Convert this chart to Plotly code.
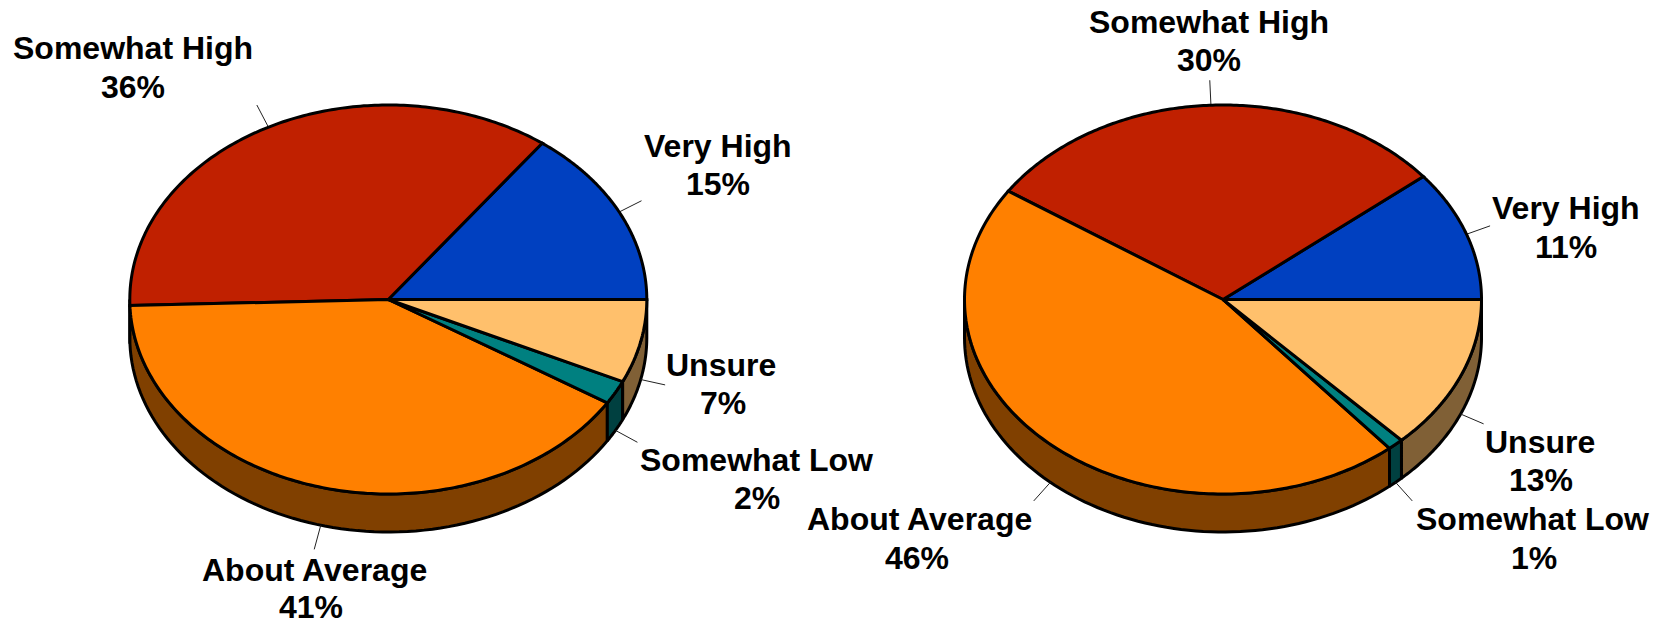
import numpy as np
import plotly.graph_objects as go

# ---- data ----
categories = ["Very High", "Somewhat High", "About Average", "Somewhat Low", "Unsure"]
left_values = [15, 36, 41, 2, 7]
right_values = [11, 30, 46, 1, 13]

# ---- style and layout ----
top_colors = ["#0040C0", "#C02000", "#FF8000", "#008080", "#FFC06C"]
wall_colors = ["#002060", "#601000", "#804000", "#004040", "#806036"]
W, H = 1663, 621
RX, RY, DEPTH = 258.5, 194.5, 38
CY = 299.5
EDGE = 3
LEADER = 25
left_cx, right_cx = 388.3, 1223
# label-line centres in pixels: (x name, y name, x pct, y pct)
left_label_pos = [(718, 146, 718, 184), (133, 48, 133, 87), (314, 569.5, 311, 607),
                  (756, 459.5, 757, 498), (720.5, 365, 722.5, 403)]
right_label_pos = [(1566, 208, 1566, 247), (1209, 22, 1209, 60), (919.5, 518.5, 917, 558),
                   (1532, 518.5, 1533.5, 558), (1540, 441.5, 1540.5, 480)]


def edge(cx, deg, dz=0.0):
    t = np.radians(deg)
    return cx + RX * np.cos(t), CY - RY * np.sin(t) + dz


def pie(cx, values, label_pos):
    fracs = np.array(values, dtype=float) / sum(values) * 360
    stops = np.concatenate([[0], np.cumsum(fracs)])
    traces, notes = [], []
    # side walls, only the part of each slice facing the viewer
    for i, name in enumerate(categories):
        a0, a1 = max(stops[i], 180), min(stops[i + 1], 360)
        if a1 <= a0:
            continue
        arc = np.linspace(a0, a1, 80)
        x1, y1 = edge(cx, arc)
        x2, y2 = edge(cx, arc[::-1], DEPTH)
        traces.append(go.Scatter(
            x=np.r_[x1, x2, x1[0]], y=np.r_[y1, y2, y1[0]], mode="lines", fill="toself",
            fillcolor=wall_colors[i], line=dict(color="black", width=EDGE, simplify=False),
            name=name, showlegend=False, hoverinfo="skip"))
    # leader lines, radial from the middle of each slice
    for i, name in enumerate(categories):
        mid = (stops[i] + stops[i + 1]) / 2
        t = np.radians(mid)
        dz = DEPTH if np.sin(t) < 0 else 0
        x0, y0 = edge(cx, mid, dz)
        traces.append(go.Scatter(
            x=[x0, x0 + LEADER * np.cos(t)], y=[y0, y0 - LEADER * np.sin(t)], mode="lines",
            line=dict(color="#222222", width=1), showlegend=False, hoverinfo="skip"))
    # top face
    for i, name in enumerate(categories):
        arc = np.linspace(stops[i], stops[i + 1], 160)
        x1, y1 = edge(cx, arc)
        traces.append(go.Scatter(
            x=np.r_[cx, x1, cx], y=np.r_[CY, y1, CY], mode="lines", fill="toself",
            fillcolor=top_colors[i], line=dict(color="black", width=EDGE, simplify=False),
            name=name, text=f"{name} {values[i]}%", hoverinfo="text", showlegend=False))
    # labels
    for name, v, (xn, yn, xp, yp) in zip(categories, values, label_pos):
        for txt, x, y in ((name, xn, yn), (f"{v}%", xp, yp)):
            notes.append(dict(x=x, y=y, xref="x", yref="y", text=f"<b>{txt}</b>", showarrow=False,
                              xanchor="center", yanchor="middle",
                              font=dict(family="Liberation Sans", size=32, color="black")))
    return traces, notes


t1, n1 = pie(left_cx, left_values, left_label_pos)
t2, n2 = pie(right_cx, right_values, right_label_pos)

fig = go.Figure(t1 + t2)
fig.update_layout(
    width=W, height=H, margin=dict(l=0, r=0, t=0, b=0),
    paper_bgcolor="white", plot_bgcolor="white", annotations=n1 + n2,
    xaxis=dict(range=[0, W], visible=False, fixedrange=True),
    yaxis=dict(range=[H, 0], visible=False, fixedrange=True),
)
fig.write_html("out.html", config={"displayModeBar": False},
               post_script="document.body.style.margin='0';document.body.style.overflow='hidden';")
